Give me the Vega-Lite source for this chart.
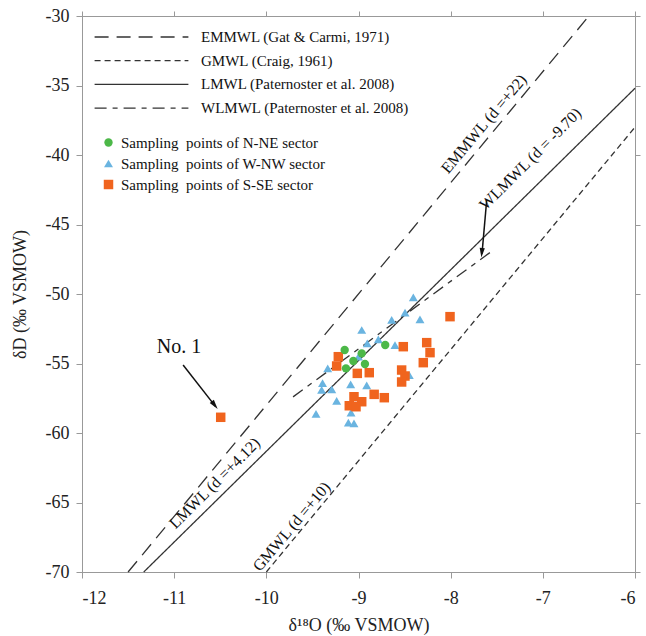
{
  "$schema": "https://vega.github.io/schema/vega-lite/v6.json",
  "width": 553,
  "height": 556,
  "autosize": {"type": "none"},
  "padding": {"left": 82, "top": 16, "right": 11, "bottom": 64},
  "config": {
    "font": "Liberation Serif",
    "view": {"stroke": "#999", "strokeWidth": 1},
    "axis": {"grid": false, "domainColor": "#999", "tickColor": "#999", "labelColor": "#222", "titleColor": "#222", "labelFont": "Liberation Serif", "titleFont": "Liberation Serif", "titleFontWeight": "normal"}
  },
  "resolve": {"axis": {"x": "independent", "y": "independent"}},
  "layer": [
    {
      "data": {"values": [
        {"line": "EMMWL (Gat & Carmi, 1971)", "x": -11.5, "y": -70},
        {"line": "EMMWL (Gat & Carmi, 1971)", "x": -6.5, "y": -30},
        {"line": "GMWL (Craig, 1961)", "x": -10, "y": -70},
        {"line": "GMWL (Craig, 1961)", "x": -6, "y": -38},
        {"line": "LMWL (Paternoster et al. 2008)", "x": -11.33, "y": -70},
        {"line": "LMWL (Paternoster et al. 2008)", "x": -6, "y": -35.2},
        {"line": "WLMWL (Paternoster et al. 2008)", "x": -9.71, "y": -57.4},
        {"line": "WLMWL (Paternoster et al. 2008)", "x": -7.56, "y": -46.95}
      ]},
      "mark": {"type": "line", "color": "#333", "strokeWidth": 1.3},
      "encoding": {
        "x": {"field": "x", "type": "quantitative", "scale": {"domain": [-12, -6], "nice": false, "zero": false},
          "axis": {"orient": "bottom", "values": [-12, -11, -10, -9, -8, -7, -6], "format": "d", "labelExpr": "replace(datum.label, '\u2212', '-')", "labelFont": "Liberation Serif", "labelFontSize": 18, "tickSize": 6, "labelPadding": 11, "title": "δ¹⁸O (‰ VSMOW)", "titleFont": "Liberation Serif", "titleFontSize": 18, "titlePadding": 9}},
        "y": {"field": "y", "type": "quantitative", "scale": {"domain": [-70, -30], "nice": false, "zero": false},
          "axis": {"orient": "left", "values": [-70, -65, -60, -55, -50, -45, -40, -35, -30], "format": "d", "labelExpr": "replace(datum.label, '\u2212', '-')", "labelFont": "Liberation Serif", "labelFontSize": 18, "tickSize": 6, "labelPadding": 7, "title": "δD (‰ VSMOW)", "titleFont": "Liberation Serif", "titleFontSize": 18, "titlePadding": 16}},
        "strokeDash": {"field": "line", "type": "nominal",
          "scale": {"domain": ["EMMWL (Gat & Carmi, 1971)", "GMWL (Craig, 1961)", "LMWL (Paternoster et al. 2008)", "WLMWL (Paternoster et al. 2008)"], "range": [[14, 8], [6, 4], [1, 0], [12, 6, 5, 6]]},
          "legend": {"title": null, "orient": "none", "legendX": 52, "legendY": 13.5, "symbolType": "M-10,0H10", "symbolSize": 88, "symbolStrokeWidth": 1.3, "symbolStrokeColor": "#333", "symbolFillColor": "transparent", "labelFont": "Liberation Serif", "labelFontSize": 15, "labelColor": "#111", "labelOffset": 52, "rowPadding": 7.7, "labelLimit": 400}}
      }
    },
    {
      "data": {"values": [
        {"sector": "Sampling\u00a0 points of W-NW sector", "x": -8.405, "y": -50.24},
        {"sector": "Sampling\u00a0 points of W-NW sector", "x": -8.495, "y": -51.34},
        {"sector": "Sampling\u00a0 points of W-NW sector", "x": -8.64, "y": -51.87},
        {"sector": "Sampling\u00a0 points of W-NW sector", "x": -8.333, "y": -51.82},
        {"sector": "Sampling\u00a0 points of W-NW sector", "x": -8.965, "y": -52.59},
        {"sector": "Sampling\u00a0 points of W-NW sector", "x": -8.785, "y": -53.26},
        {"sector": "Sampling\u00a0 points of W-NW sector", "x": -8.905, "y": -53.55},
        {"sector": "Sampling\u00a0 points of W-NW sector", "x": -8.604, "y": -53.67},
        {"sector": "Sampling\u00a0 points of W-NW sector", "x": -9.0, "y": -54.5},
        {"sector": "Sampling\u00a0 points of W-NW sector", "x": -9.334, "y": -55.35},
        {"sector": "Sampling\u00a0 points of W-NW sector", "x": -9.39, "y": -56.42},
        {"sector": "Sampling\u00a0 points of W-NW sector", "x": -9.085, "y": -56.5},
        {"sector": "Sampling\u00a0 points of W-NW sector", "x": -8.911, "y": -56.57},
        {"sector": "Sampling\u00a0 points of W-NW sector", "x": -9.4, "y": -56.9},
        {"sector": "Sampling\u00a0 points of W-NW sector", "x": -9.29, "y": -56.86},
        {"sector": "Sampling\u00a0 points of W-NW sector", "x": -8.449, "y": -55.83},
        {"sector": "Sampling\u00a0 points of W-NW sector", "x": -9.237, "y": -57.68},
        {"sector": "Sampling\u00a0 points of W-NW sector", "x": -9.081, "y": -58.54},
        {"sector": "Sampling\u00a0 points of W-NW sector", "x": -9.461, "y": -58.63},
        {"sector": "Sampling\u00a0 points of W-NW sector", "x": -9.11, "y": -59.26},
        {"sector": "Sampling\u00a0 points of W-NW sector", "x": -9.049, "y": -59.3},
        {"sector": "Sampling\u00a0 points of S-SE sector", "x": -8.007, "y": -51.63},
        {"sector": "Sampling\u00a0 points of S-SE sector", "x": -8.26, "y": -53.5},
        {"sector": "Sampling\u00a0 points of S-SE sector", "x": -8.224, "y": -54.22},
        {"sector": "Sampling\u00a0 points of S-SE sector", "x": -8.297, "y": -54.94},
        {"sector": "Sampling\u00a0 points of S-SE sector", "x": -8.514, "y": -53.79},
        {"sector": "Sampling\u00a0 points of S-SE sector", "x": -9.219, "y": -54.51},
        {"sector": "Sampling\u00a0 points of S-SE sector", "x": -9.237, "y": -55.18},
        {"sector": "Sampling\u00a0 points of S-SE sector", "x": -9.013, "y": -55.71},
        {"sector": "Sampling\u00a0 points of S-SE sector", "x": -8.883, "y": -55.66},
        {"sector": "Sampling\u00a0 points of S-SE sector", "x": -8.532, "y": -55.47},
        {"sector": "Sampling\u00a0 points of S-SE sector", "x": -8.496, "y": -55.9},
        {"sector": "Sampling\u00a0 points of S-SE sector", "x": -8.532, "y": -56.33},
        {"sector": "Sampling\u00a0 points of S-SE sector", "x": -8.83, "y": -57.22},
        {"sector": "Sampling\u00a0 points of S-SE sector", "x": -8.72, "y": -57.46},
        {"sector": "Sampling\u00a0 points of S-SE sector", "x": -9.049, "y": -57.39},
        {"sector": "Sampling\u00a0 points of S-SE sector", "x": -8.965, "y": -57.75},
        {"sector": "Sampling\u00a0 points of S-SE sector", "x": -9.1, "y": -58.04},
        {"sector": "Sampling\u00a0 points of S-SE sector", "x": -9.027, "y": -58.11},
        {"sector": "Sampling\u00a0 points of S-SE sector", "x": -10.495, "y": -58.87},
        {"sector": "Sampling\u00a0 points of N-NE sector", "x": -9.15, "y": -54.03},
        {"sector": "Sampling\u00a0 points of N-NE sector", "x": -8.965, "y": -54.27},
        {"sector": "Sampling\u00a0 points of N-NE sector", "x": -9.056, "y": -54.82},
        {"sector": "Sampling\u00a0 points of N-NE sector", "x": -9.136, "y": -55.35},
        {"sector": "Sampling\u00a0 points of N-NE sector", "x": -8.93, "y": -55.04},
        {"sector": "Sampling\u00a0 points of N-NE sector", "x": -8.71, "y": -53.67}
      ]},
      "mark": {"type": "point", "filled": true, "opacity": 1},
      "encoding": {
        "x": {"field": "x", "type": "quantitative", "axis": null},
        "y": {"field": "y", "type": "quantitative", "axis": null},
        "shape": {"field": "sector", "type": "nominal",
          "scale": {"domain": ["Sampling\u00a0 points of N-NE sector", "Sampling\u00a0 points of W-NW sector", "Sampling\u00a0 points of S-SE sector"], "range": ["circle", "triangle-up", "square"]},
          "legend": {"title": null, "orient": "none", "legendX": 19, "legendY": 119, "labelFont": "Liberation Serif", "labelFontSize": 15, "labelColor": "#111", "labelOffset": 5, "rowPadding": 5, "labelLimit": 400}},
        "color": {"field": "sector", "type": "nominal",
          "scale": {"domain": ["Sampling\u00a0 points of N-NE sector", "Sampling\u00a0 points of W-NW sector", "Sampling\u00a0 points of S-SE sector"], "range": ["#4cb848", "#6ab4e0", "#f0641e"]},
          "legend": {"title": null, "orient": "none", "legendX": 19, "legendY": 119, "labelFont": "Liberation Serif", "labelFontSize": 15, "labelColor": "#111", "labelOffset": 5, "rowPadding": 5, "labelLimit": 400}},
        "size": {"field": "sector", "type": "nominal",
          "scale": {"domain": ["Sampling\u00a0 points of N-NE sector", "Sampling\u00a0 points of W-NW sector", "Sampling\u00a0 points of S-SE sector"], "range": [70, 90, 52]},
          "legend": {"title": null, "orient": "none", "legendX": 19, "legendY": 119, "labelFont": "Liberation Serif", "labelFontSize": 15, "labelColor": "#111", "labelOffset": 5, "rowPadding": 5, "labelLimit": 400}}
      }
    },
    {
      "data": {"values": [
        {"x": -10.903, "y": -55.11, "x2": -10.55, "y2": -58.1},
        {"x": -7.609, "y": -43.24, "x2": -7.66, "y2": -47.1}
      ]},
      "mark": {"type": "rule", "color": "#111", "strokeWidth": 1.5},
      "encoding": {
        "x": {"field": "x", "type": "quantitative", "axis": null},
        "y": {"field": "y", "type": "quantitative", "axis": null},
        "x2": {"field": "x2"},
        "y2": {"field": "y2"}
      }
    },
    {
      "data": {"values": [{"x": -10.56, "y": -58.0}]},
      "mark": {"type": "point", "shape": "M0,-1L0.55,1L-0.55,1Z", "filled": true, "color": "#111", "opacity": 1, "size": 90, "angle": 142},
      "encoding": {
        "x": {"field": "x", "type": "quantitative", "axis": null},
        "y": {"field": "y", "type": "quantitative", "axis": null}
      }
    },
    {
      "data": {"values": [{"x": -7.662, "y": -47.03}]},
      "mark": {"type": "point", "shape": "M0,-1L0.55,1L-0.55,1Z", "filled": true, "color": "#111", "opacity": 1, "size": 90, "angle": 185},
      "encoding": {
        "x": {"field": "x", "type": "quantitative", "axis": null},
        "y": {"field": "y", "type": "quantitative", "axis": null}
      }
    },
    {
      "data": {"values": [{"x": -10.948, "y": -53.79, "label": "No. 1"}]},
      "mark": {"type": "text", "font": "Liberation Serif", "fontSize": 20, "color": "#111", "align": "center", "baseline": "middle"},
      "encoding": {
        "x": {"field": "x", "type": "quantitative", "axis": null},
        "y": {"field": "y", "type": "quantitative", "axis": null},
        "text": {"field": "label"}
      }
    },
    {
      "data": {"values": [{"x": -7.638, "y": -37.77, "label": "EMMWL (d =+22)"}]},
      "mark": {"type": "text", "font": "Liberation Serif", "fontSize": 16, "color": "#111", "align": "center", "baseline": "middle", "angle": -50},
      "encoding": {
        "x": {"field": "x", "type": "quantitative", "axis": null},
        "y": {"field": "y", "type": "quantitative", "axis": null},
        "text": {"field": "label"}
      }
    },
    {
      "data": {"values": [{"x": -7.134, "y": -40.29, "label": "WLMWL (d = -9.70)"}]},
      "mark": {"type": "text", "font": "Liberation Serif", "fontSize": 16, "color": "#111", "align": "center", "baseline": "middle", "angle": -45},
      "encoding": {
        "x": {"field": "x", "type": "quantitative", "axis": null},
        "y": {"field": "y", "type": "quantitative", "axis": null},
        "text": {"field": "label"}
      }
    },
    {
      "data": {"values": [{"x": -10.56, "y": -63.62, "label": "LMWL (d =+4.12)"}]},
      "mark": {"type": "text", "font": "Liberation Serif", "fontSize": 16, "color": "#111", "align": "center", "baseline": "middle", "angle": -45},
      "encoding": {
        "x": {"field": "x", "type": "quantitative", "axis": null},
        "y": {"field": "y", "type": "quantitative", "axis": null},
        "text": {"field": "label"}
      }
    },
    {
      "data": {"values": [{"x": -9.725, "y": -66.74, "label": "GMWL (d =+10)"}]},
      "mark": {"type": "text", "font": "Liberation Serif", "fontSize": 16, "color": "#111", "align": "center", "baseline": "middle", "angle": -50},
      "encoding": {
        "x": {"field": "x", "type": "quantitative", "axis": null},
        "y": {"field": "y", "type": "quantitative", "axis": null},
        "text": {"field": "label"}
      }
    },
    {
      "data": {"values": [{"x": -12, "y": -70}, {"x": -6, "y": -30}]},
      "mark": {"type": "point", "opacity": 0},
      "encoding": {
        "x": {"field": "x", "type": "quantitative", "axis": {"orient": "top", "values": [-12, -11, -10, -9, -8, -7, -6], "labels": false, "domain": false, "tickSize": 5, "title": null}},
        "y": {"field": "y", "type": "quantitative", "axis": {"orient": "right", "values": [-70, -65, -60, -55, -50, -45, -40, -35, -30], "labels": false, "domain": false, "tickSize": 5, "title": null}}
      }
    }
  ]
}
